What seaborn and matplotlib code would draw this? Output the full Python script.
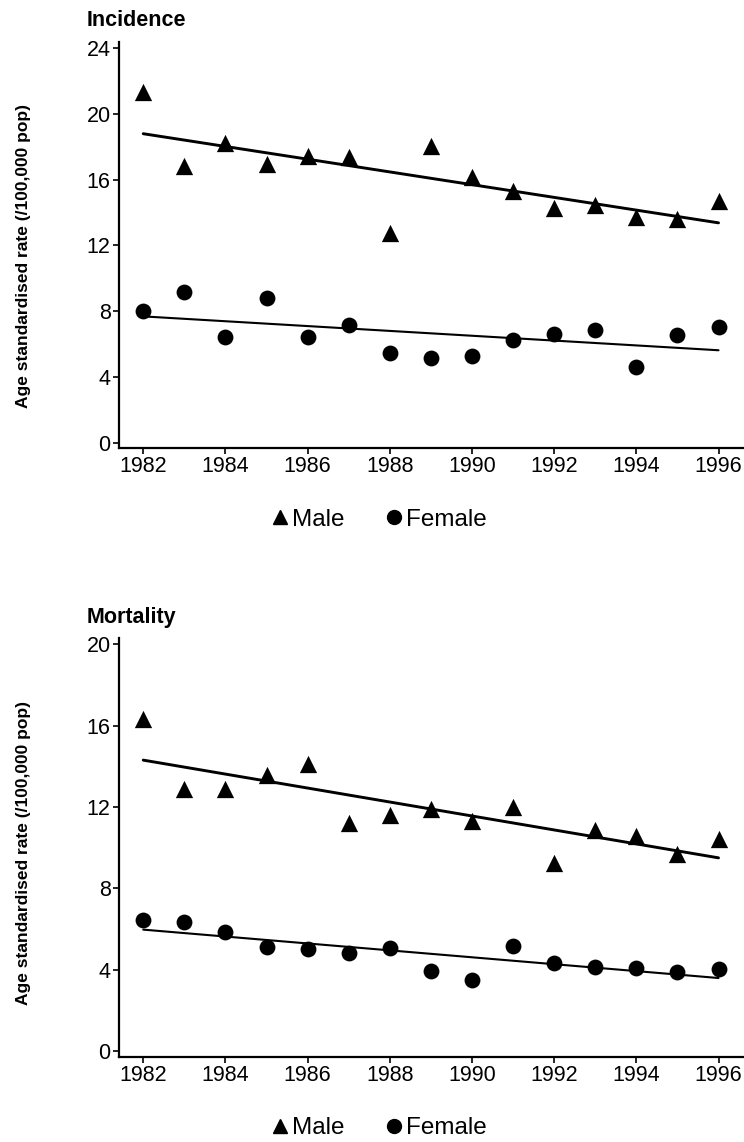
import numpy as np
import pandas as pd
import matplotlib
matplotlib.use("Agg")
import matplotlib.pyplot as plt
from matplotlib.lines import Line2D
import seaborn as sns

years = list(range(1982, 1997))

inc_male = [21.3, 16.8, 18.25, 16.97, 17.44, 17.34, 12.76, 18.04, 16.16, 15.33, 14.3, 14.46, 13.73, 13.59, 14.67]
inc_female = [8.02, 9.17, 6.44, 8.81, 6.44, 7.15, 5.47, 5.13, 5.27, 6.24, 6.6, 6.85, 4.62, 6.52, 7.05]
mort_male = [16.32, 12.88, 12.88, 13.57, 14.09, 11.22, 11.6, 11.88, 11.3, 11.98, 9.25, 10.86, 10.57, 9.68, 10.42]
mort_female = [6.43, 6.35, 5.86, 5.12, 4.99, 4.83, 5.04, 3.93, 3.48, 5.17, 4.3, 4.14, 4.06, 3.88, 4.01]

xticks = list(range(1982, 1997, 2))
inc_yticks = [0, 4, 8, 12, 16, 20, 24]
mort_yticks = [0, 4, 8, 12, 16, 20]

titles = ["Incidence", "Mortality"]
ylabel = "Age standardised rate (/100,000 pop)"
series_names = ["Male", "Female"]

sns.set_style("ticks")
plt.rcParams['font.family'] = ['Liberation Sans', 'DejaVu Sans']
plt.rcParams.update({"text.color": "black", "axes.labelcolor": "black",
                     "xtick.color": "black", "ytick.color": "black",
                     "axes.edgecolor": "black"})

W, H = 744, 1142
fig = plt.figure(figsize=(W / 100, H / 100), dpi=100)

def px_box(left, top, right, bottom):
    return [left / W, 1 - bottom / H, (right - left) / W, (bottom - top) / H]

ax1 = fig.add_axes(px_box(119, 42, 744, 447.7))
ax2 = fig.add_axes(px_box(119, 638.3, 744, 1056.7))

panels = [
    (ax1, inc_male, inc_female, inc_yticks, (-0.3, 24.36), titles[0], 25.5, 0.4725, 520),
    (ax2, mort_male, mort_female, mort_yticks, (-0.29, 20.3), titles[1], 623, 0.486, 1128),
]

for ax, male, female, yt, ylim, title, title_y, lab_y, leg_y in panels:
    df = pd.DataFrame({"year": years, "male": male, "female": female})
    sns.regplot(data=df, x="year", y="male", ax=ax, ci=None, marker="^", color="black",
                scatter_kws=dict(s=155, linewidths=0, alpha=1), line_kws=dict(lw=2.1, color="black"))
    sns.regplot(data=df, x="year", y="female", ax=ax, ci=None, marker="o", color="black",
                scatter_kws=dict(s=130, linewidths=0, alpha=1), line_kws=dict(lw=1.5, color="black"))
    ax.set_xlim(1981.41, 1996.62)
    ax.set_ylim(*ylim)
    ax.set_xticks(xticks)
    ax.set_yticks(yt)
    ax.set_xlabel("")
    ax.set_ylabel(ylabel, fontsize=12.5, fontweight="bold")
    ax.yaxis.label.set_va("center")
    ax.yaxis.set_label_coords(-0.152, lab_y)
    ax.tick_params(axis="both", labelsize=15.5, length=4, width=1.2, pad=2, color="black", labelcolor="black")
    for s in ["top", "right"]:
        ax.spines[s].set_visible(False)
    for s in ["left", "bottom"]:
        ax.spines[s].set_linewidth(1.6)
        ax.spines[s].set_color("black")
    ax.set_facecolor("white")
    fig.text(87 / W, 1 - title_y / H, title, fontsize=15.5, fontweight="bold", ha="left", va="baseline")

    handles = [
        Line2D([], [], marker="^", color="black", linestyle="none", markersize=10),
        Line2D([], [], marker="o", color="black", linestyle="none", markersize=10),
    ]
    fig.legend(handles=handles, labels=series_names, loc="center", ncol=2, frameon=False,
               bbox_to_anchor=(378 / W, 1 - leg_y / H), fontsize=17.5, handletextpad=0.05,
               columnspacing=1.6, handlelength=0.9)

fig.savefig("out.png", dpi=100, facecolor="white")
